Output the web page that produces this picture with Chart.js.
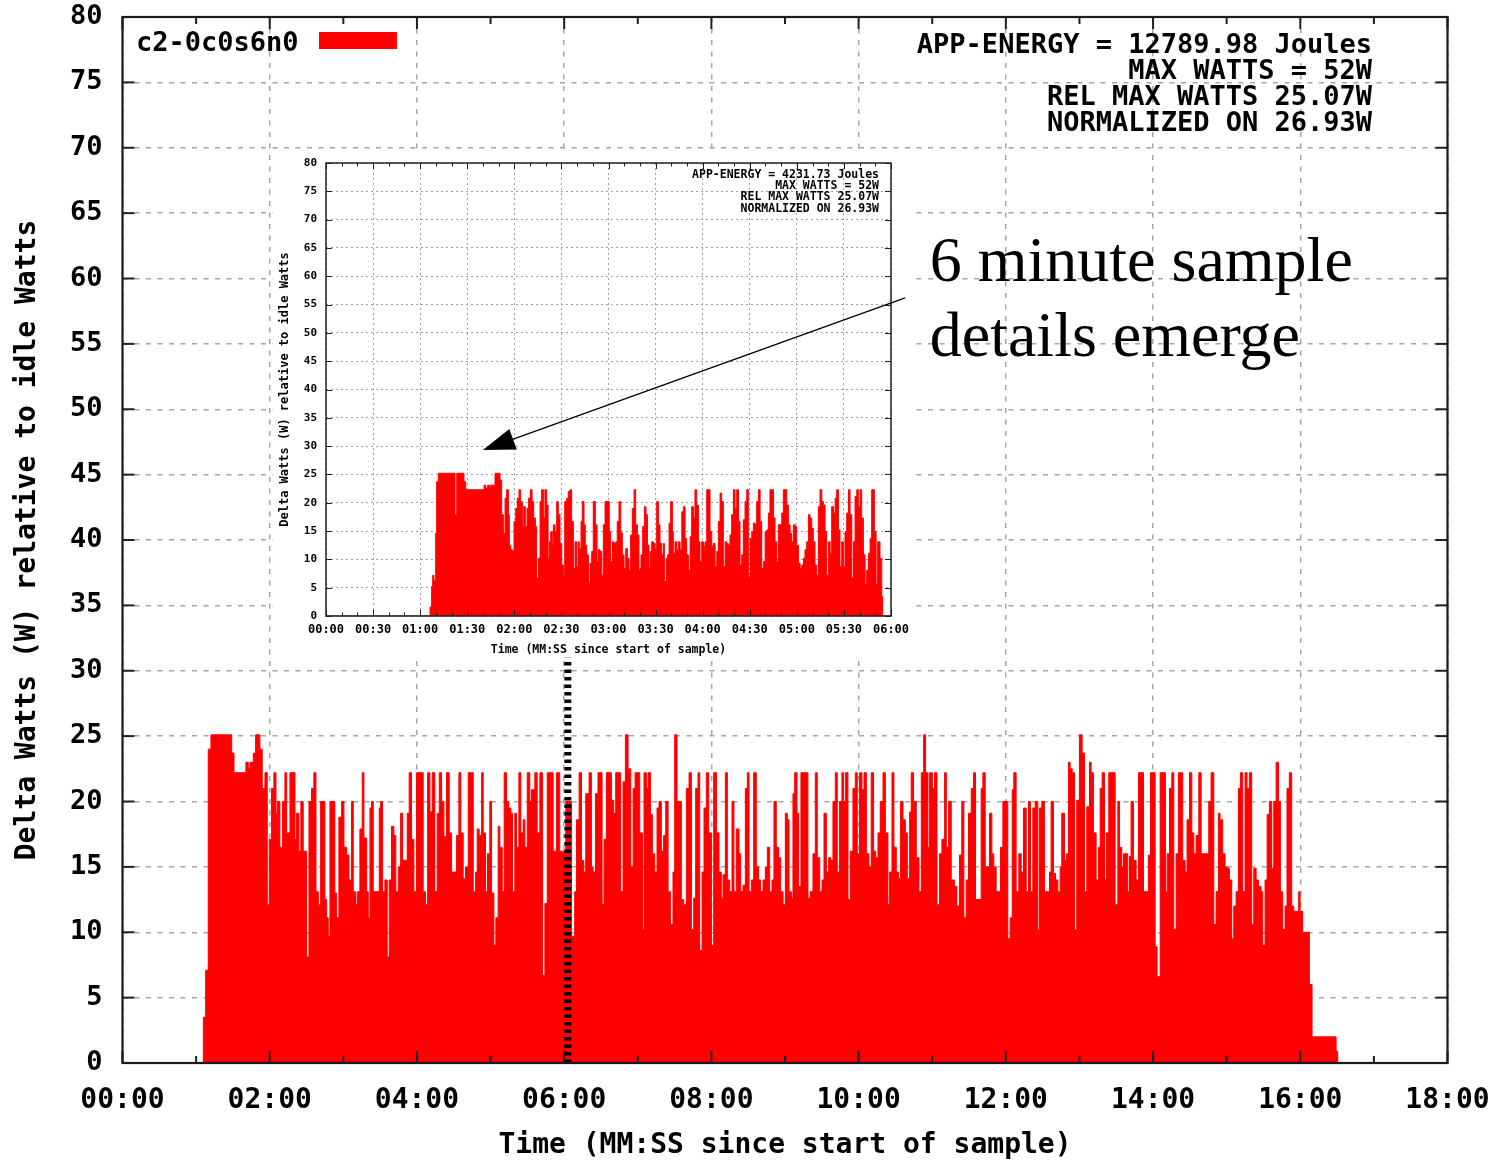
<!DOCTYPE html>
<html><head><meta charset="utf-8">
<script src="https://cdn.jsdelivr.net/npm/chart.js@4.4.0/dist/chart.umd.min.js"></script>
<style>
html,body{margin:0;padding:0;background:#fff;}
#wrap{position:relative;width:1492px;height:1160px;overflow:hidden;}
#main{position:absolute;left:0;top:0;}
#inset{position:absolute;left:273px;top:150px;background:#fff;}
</style></head><body>
<div id="wrap"><canvas id="main" width="1492" height="1160"></canvas><canvas id="inset" width="640" height="507"></canvas></div>
<script>
// ---------------- DATA ----------------
const seriesLabel = 'c2-0c0s6n0';
const yTitle = 'Delta Watts (W) relative to idle Watts';
const xTitle = 'Time (MM:SS since start of sample)';
const mainStats = ['APP-ENERGY = 12789.98 Joules', 'MAX WATTS = 52W', 'REL MAX WATTS 25.07W', 'NORMALIZED ON 26.93W'];
const insetStats = ['APP-ENERGY = 4231.73 Joules', 'MAX WATTS = 52W', 'REL MAX WATTS 25.07W', 'NORMALIZED ON 26.93W'];
const noteLines = ['6 minute sample', 'details emerge'];
const mainXTickLabels = ['00:00','02:00','04:00','06:00','08:00','10:00','12:00','14:00','16:00','18:00'];
const insetXTickLabels = ['00:00','00:30','01:00','01:30','02:00','02:30','03:00','03:30','04:00','04:30','05:00','05:30','06:00'];

// main chart: step start time (s) and watts
const mainTime = [
 0, 65.9, 67.8, 69.9, 72.1, 89.0, 90.9, 100.6, 102.5, 103.9,
 106.6, 108.5, 112.0, 113.9, 116.1, 118.0, 119.6, 121.5, 123.4, 125.1,
 126.2, 128.3, 130.5, 132.4, 133.8, 136.5, 140.6, 141.9, 143.8, 145.4,
 147.3, 150.1, 152.0, 154.1, 156.0, 157.7, 159.6, 161.5, 165.0, 166.4,
 167.7, 169.1, 173.1, 174.5, 176.4, 178.6, 180.5, 182.7, 184.6, 186.7,
 188.1, 190.0, 191.3, 193.5, 195.4, 196.8, 199.0, 200.3, 201.7, 203.0,
 204.4, 209.3, 210.4, 212.0, 213.9, 215.8, 217.4, 219.3, 221.2, 222.8,
 224.8, 226.7, 228.3, 232.1, 233.7, 235.6, 237.5, 239.7, 245.1, 247.0,
 248.7, 250.6, 252.5, 254.6, 256.5, 258.2, 260.1, 262.0, 264.1, 266.3,
 268.2, 272.3, 274.2, 275.8, 277.7, 279.6, 281.8, 285.9, 287.8, 289.1,
 290.7, 292.7, 294.0, 295.9, 297.5, 299.4, 300.8, 302.7, 304.3, 306.2,
 307.6, 309.5, 311.1, 313.0, 314.9, 316.6, 317.9, 319.8, 321.2, 323.1,
 324.7, 326.6, 328.0, 329.9, 332.0, 333.4, 336.1, 338.0, 340.2, 342.4,
 344.3, 346.2, 351.0, 353.8, 356.4, 361.3, 365.9, 368.6, 370.0, 372.2,
 374.1, 376.0, 377.6, 380.3, 382.2, 383.6, 385.5, 387.6, 390.9, 392.5,
 394.4, 398.5, 400.4, 402.0, 406.1, 408.0, 409.9, 412.1, 414.3, 416.2,
 417.8, 421.6, 423.8, 425.1, 427.0, 428.4, 430.3, 431.9, 433.8, 435.7,
 437.3, 439.2, 441.1, 442.8, 444.7, 446.6, 448.7, 450.1, 452.0, 455.5,
 457.4, 459.6, 461.8, 463.7, 465.6, 467.2, 469.1, 470.5, 472.4, 474.0,
 475.9, 477.8, 480.0, 481.9, 484.1, 486.2, 488.1, 489.5, 491.4, 493.0,
 494.9, 496.8, 498.4, 500.3, 502.5, 503.9, 505.8, 507.7, 509.3, 510.7,
 512.6, 514.5, 516.6, 518.5, 520.2, 522.1, 524.0, 525.6, 527.5, 529.4,
 531.0, 532.9, 534.8, 536.5, 538.4, 540.3, 541.9, 543.3, 545.2, 546.5,
 547.9, 549.8, 551.1, 553.0, 558.7, 560.6, 562.8, 564.7, 566.3, 568.3,
 570.2, 571.8, 573.7, 575.6, 577.2, 579.1, 581.0, 582.6, 584.5, 586.4,
 587.8, 589.4, 591.3, 593.2, 595.4, 597.3, 598.9, 600.8, 602.7, 604.4,
 606.3, 608.4, 610.3, 612.2, 613.9, 615.8, 617.7, 619.9, 621.8, 623.9,
 625.3, 627.2, 628.8, 630.7, 632.6, 634.2, 636.2, 638.1, 639.7, 641.6,
 642.9, 644.8, 647.0, 649.2, 651.1, 653.0, 654.6, 656.5, 657.9, 660.1,
 661.9, 663.9, 666.0, 667.9, 670.1, 671.5, 673.4, 675.5, 678.2, 680.1,
 682.2, 684.1, 685.8, 687.7, 689.6, 691.8, 693.7, 695.3, 699.9, 701.3,
 703.2, 706.7, 708.6, 710.2, 712.1, 715.7, 717.6, 721.6, 723.5, 725.2,
 726.5, 728.4, 730.6, 732.5, 734.4, 736.6, 738.5, 740.1, 742.0, 743.9,
 746.1, 747.4, 749.3, 751.5, 755.6, 756.9, 758.8, 760.5, 762.4, 764.3,
 765.6, 767.8, 769.2, 771.1, 772.4, 774.1, 776.0, 777.8, 780.0, 782.2,
 784.1, 786.0, 788.2, 789.5, 791.4, 793.6, 795.5, 796.9, 798.5, 800.4,
 801.8, 803.9, 809.1, 811.3, 812.6, 814.5, 815.9, 819.4, 820.8, 822.1,
 824.0, 826.2, 828.1, 832.2, 836.2, 837.9, 841.7, 843.3, 845.8, 850.1,
 851.5, 853.4, 855.3, 856.9, 858.8, 860.7, 864.2, 866.1, 867.7, 869.7,
 871.6, 873.2, 875.1, 877.3, 879.2, 885.4, 887.3, 889.5, 891.4, 893.3,
 894.6, 896.8, 898.7, 900.3, 902.2, 904.1, 905.8, 907.7, 909.6, 911.2,
 913.1, 915.0, 916.6, 918.5, 920.4, 922.1, 924.0, 925.9, 928.0, 929.4,
 931.3, 933.0, 934.8, 936.7, 938.4, 940.3, 942.2, 943.8, 945.7, 947.6,
 949.2, 951.1, 953.0, 954.7, 958.7, 959.8, 962.0, 967.4, 969.6, 989.2,
 990.5, 1080
];
const mainWatts = [
 0, 3.5, 7.1, 24.0, 25.1, 23.7, 22.2, 23.0, 22.5, 23.0,
 23.7, 25.1, 24.0, 21.0, 22.2, 12.1, 17.1, 21.0, 22.2, 19.1,
 20.0, 16.5, 20.0, 22.2, 17.6, 22.2, 17.1, 19.1, 16.2, 20.0,
 16.2, 8.1, 20.0, 21.0, 22.2, 13.1, 12.1, 20.0, 12.5, 11.1,
 9.7, 20.0, 13.0, 11.1, 18.8, 20.0, 16.5, 15.9, 14.0, 20.0,
 13.1, 12.1, 13.1, 17.9, 22.2, 17.2, 13.1, 11.1, 19.5, 20.0,
 13.1, 19.5, 20.0, 13.1, 14.0, 8.1, 14.0, 18.1, 17.4, 13.1,
 15.0, 19.1, 15.5, 19.1, 22.2, 17.1, 13.1, 22.2, 13.1, 12.1,
 22.2, 19.2, 22.2, 13.1, 19.1, 22.2, 20.0, 17.3, 22.2, 17.6,
 14.6, 17.4, 22.2, 17.6, 14.1, 15.0, 22.2, 13.1, 14.6, 17.9,
 17.4, 22.2, 17.6, 13.1, 16.0, 20.0, 13.0, 9.0, 11.1, 18.1,
 16.5, 13.1, 22.2, 20.0, 19.5, 19.1, 13.1, 19.1, 16.5, 22.2,
 17.6, 18.6, 16.5, 22.2, 20.0, 20.9, 22.2, 17.6, 22.2, 6.7,
 12.2, 22.2, 16.2, 22.2, 16.2, 20.0, 9.7, 13.1, 18.6, 22.2,
 15.5, 14.6, 20.6, 22.2, 15.0, 14.6, 20.6, 22.2, 12.1, 17.1,
 22.2, 20.1, 19.1, 22.2, 13.1, 21.5, 25.1, 22.5, 15.0, 21.0,
 22.2, 17.6, 10.2, 22.2, 21.0, 22.2, 19.0, 16.0, 14.6, 19.5,
 20.0, 16.2, 17.4, 20.0, 13.1, 10.6, 14.6, 25.1, 20.0, 12.5,
 12.1, 21.0, 22.2, 10.2, 12.6, 21.0, 22.2, 8.6, 14.6, 19.5,
 22.2, 17.6, 9.0, 22.2, 17.6, 14.6, 12.6, 14.4, 22.2, 14.0,
 13.1, 20.0, 13.1, 17.9, 16.0, 13.1, 13.6, 21.0, 22.2, 13.1,
 14.0, 22.2, 15.0, 14.0, 13.1, 14.0, 15.0, 16.5, 13.1, 14.0,
 20.0, 16.5, 15.7, 13.1, 12.1, 19.1, 18.6, 13.1, 12.6, 20.6,
 22.2, 19.1, 13.5, 22.2, 12.6, 13.1, 16.0, 22.2, 15.7, 13.1,
 14.0, 19.1, 14.6, 15.7, 15.5, 20.0, 22.2, 14.6, 20.0, 22.2,
 20.0, 22.2, 12.5, 16.2, 21.0, 22.2, 16.0, 22.2, 20.9, 22.2,
 16.0, 15.0, 22.2, 16.2, 15.7, 17.6, 20.0, 22.2, 17.6, 12.1,
 14.6, 22.2, 16.5, 14.6, 14.1, 20.0, 18.6, 17.6, 14.1, 19.2,
 22.2, 20.0, 15.7, 13.1, 22.2, 25.1, 22.2, 16.5, 22.2, 21.0,
 22.2, 12.1, 16.0, 17.1, 22.2, 16.5, 20.0, 14.0, 13.5, 12.0,
 15.9, 20.0, 11.1, 14.0, 19.1, 21.0, 22.2, 12.5, 21.0, 22.2,
 15.0, 19.1, 16.0, 15.0, 13.1, 16.5, 20.0, 9.5, 11.1, 20.9,
 22.2, 13.1, 16.0, 14.6, 19.5, 13.1, 20.0, 13.1, 19.5, 20.0,
 10.2, 19.5, 20.0, 13.1, 14.6, 20.0, 14.5, 14.0, 13.1, 15.0,
 19.1, 15.5, 16.0, 23.0, 22.5, 22.2, 10.2, 20.1, 25.1, 23.7,
 13.1, 19.6, 23.0, 22.2, 17.6, 14.0, 16.5, 21.0, 22.2, 14.0,
 17.6, 22.2, 12.1, 20.0, 16.5, 15.0, 16.0, 13.1, 15.8, 20.0,
 15.5, 14.0, 22.2, 13.1, 15.9, 22.2, 8.9, 6.6, 22.2, 13.1,
 16.0, 21.0, 22.2, 10.2, 16.0, 22.2, 15.5, 14.6, 18.6, 22.2,
 17.6, 16.0, 17.4, 22.2, 16.0, 20.0, 22.2, 10.6, 13.1, 19.1,
 18.6, 16.0, 15.0, 14.9, 14.0, 9.5, 12.0, 13.1, 21.0, 22.2,
 13.1, 22.2, 21.0, 22.2, 10.6, 14.9, 14.0, 13.5, 13.1, 9.0,
 14.0, 19.0, 20.0, 14.9, 20.0, 23.0, 20.0, 13.1, 10.2, 12.0,
 21.0, 22.2, 12.0, 11.6, 13.1, 11.6, 10.0, 6.0, 2.0, 0.9,
 0, 0
];

// inset chart (first 6 minutes): step start time (s) and watts
const insetTime = [
 0, 66.3, 67.3, 68.0, 68.8, 69.9, 70.5, 71.6, 82.2, 83.3,
 87.9, 89.0, 100.7, 101.7, 103.0, 104.1, 104.9, 107.7, 110.9, 111.9,
 113.0, 114.1, 115.1, 116.2, 116.8, 117.7, 118.9, 119.8, 120.9, 121.9,
 123.0, 124.0, 125.1, 126.0, 127.0, 128.1, 129.1, 130.2, 131.3, 132.3,
 133.4, 134.2, 135.3, 136.4, 137.4, 138.5, 139.5, 140.6, 141.5, 142.3,
 143.2, 144.2, 144.9, 145.9, 147.0, 148.0, 149.1, 150.2, 151.2, 152.1,
 153.4, 154.4, 155.5, 156.5, 157.6, 158.7, 159.7, 160.6, 161.4, 162.5,
 163.3, 164.4, 165.2, 166.1, 167.2, 168.2, 169.3, 170.3, 171.6, 172.7,
 173.5, 174.6, 175.7, 176.7, 177.8, 180.5, 181.4, 182.5, 183.5, 184.6,
 185.6, 186.7, 187.8, 188.8, 189.9, 191.0, 192.0, 193.1, 194.1, 195.2,
 196.3, 197.3, 198.4, 199.4, 200.1, 200.7, 201.8, 202.9, 203.9, 204.8,
 205.8, 206.5, 207.5, 208.6, 209.7, 210.7, 211.8, 212.8, 213.9, 215.0,
 215.6, 216.7, 217.7, 218.6, 219.6, 220.7, 221.3, 222.4, 223.5, 224.5,
 225.6, 226.7, 227.7, 228.8, 229.8, 230.9, 232.0, 233.0, 234.1, 235.1,
 236.2, 237.3, 238.3, 239.4, 240.5, 241.5, 242.6, 244.7, 245.8, 246.8,
 247.9, 249.0, 250.0, 251.1, 252.1, 253.2, 254.3, 255.3, 256.4, 257.4,
 258.5, 259.6, 260.6, 261.7, 262.8, 263.8, 264.9, 265.9, 267.0, 268.1,
 269.1, 270.2, 271.3, 272.3, 273.4, 274.4, 275.5, 276.6, 277.6, 278.7,
 279.8, 280.8, 281.9, 282.9, 285.1, 286.1, 287.2, 288.2, 290.4, 291.4,
 293.6, 294.6, 295.7, 296.7, 297.8, 298.9, 299.9, 301.0, 302.1, 303.1,
 304.2, 305.2, 306.3, 307.4, 308.4, 309.5, 310.5, 311.6, 312.7, 313.7,
 314.8, 315.9, 316.9, 318.0, 319.0, 320.1, 321.2, 322.2, 323.3, 324.4,
 325.4, 326.5, 327.5, 328.6, 329.7, 330.7, 331.8, 332.9, 333.9, 335.0,
 336.0, 337.1, 338.2, 339.2, 340.3, 341.3, 342.4, 343.5, 344.5, 345.6,
 346.7, 347.7, 349.4, 350.5, 351.5, 353.0, 354.1, 354.7, 360
];
const insetWatts = [
 0, 1.6, 5.2, 7.2, 6.2, 14.6, 23.7, 25.2, 17.9, 25.2,
 23.7, 22.3, 23.1, 22.6, 23.1, 22.6, 23.1, 25.2, 24.0, 17.9,
 14.6, 20.8, 22.3, 17.9, 12.5, 11.7, 11.4, 16.7, 19.0, 20.8,
 22.3, 20.2, 15.5, 19.3, 15.8, 19.0, 20.8, 22.3, 20.2, 17.3,
 15.8, 6.7, 10.2, 20.2, 22.3, 17.3, 22.3, 19.6, 10.2, 13.1,
 14.9, 12.5, 16.1, 14.9, 20.2, 17.9, 12.8, 9.0, 7.2, 20.2,
 20.8, 22.0, 22.3, 16.7, 8.4, 13.1, 8.7, 13.1, 11.9, 16.7,
 20.2, 16.1, 12.5, 10.8, 5.8, 9.3, 11.4, 20.2, 16.1, 9.6,
 11.7, 11.4, 7.2, 16.1, 20.2, 14.9, 9.6, 13.1, 12.8, 13.1,
 16.7, 20.2, 14.7, 10.8, 8.4, 11.9, 10.2, 8.1, 14.3, 19.0,
 22.3, 16.1, 14.3, 8.1, 8.4, 10.8, 15.8, 19.3, 17.9, 12.5,
 8.4, 11.4, 13.1, 12.8, 11.7, 20.2, 16.1, 12.8, 10.8, 12.8,
 6.1, 10.2, 10.8, 16.4, 20.2, 14.9, 11.1, 13.1, 11.7, 13.1,
 11.7, 18.4, 19.3, 13.7, 10.8, 8.1, 14.0, 19.3, 17.3, 22.3,
 19.6, 13.1, 9.6, 13.1, 12.3, 13.1, 22.3, 14.9, 12.3, 12.8,
 8.7, 11.4, 16.7, 21.7, 20.2, 8.7, 13.1, 12.8, 12.5, 14.3,
 17.9, 22.3, 19.0, 22.3, 16.7, 9.0, 10.8, 17.0, 20.2, 22.3,
 6.9, 13.7, 14.9, 16.4, 16.1, 20.2, 22.3, 16.7, 8.4, 9.6,
 14.9, 15.2, 18.2, 22.3, 17.3, 13.1, 9.6, 16.1, 18.2, 22.3,
 19.6, 16.1, 14.6, 13.1, 16.1, 15.8, 12.5, 9.3, 8.4, 9.0,
 10.2, 11.7, 13.1, 17.9, 17.3, 15.5, 13.1, 9.0, 7.2, 19.3,
 22.3, 20.2, 19.6, 14.9, 7.2, 13.1, 11.1, 19.3, 18.2, 20.8,
 22.3, 15.2, 8.7, 13.1, 8.7, 14.9, 18.2, 22.3, 17.9, 6.7,
 13.1, 21.1, 22.3, 19.3, 22.3, 17.3, 10.8, 5.5, 8.1, 11.1,
 13.7, 22.3, 14.9, 5.5, 13.1, 10.2, 3.4, 0, 0
];

// annotation anchors in data units
const markerTime = 363;          // dotted marker on the main chart (s)
const markerTop = 31;            // top of dotted marker (W)
const noteAt = { x: 658, y: [59.8, 54.1] };
const arrowTip = { x: 100, y: 29.3 };     // inset data units
const arrowTail = { x: 369, y: 56.2 };

// ---------------- RENDER ----------------
const MONO = '"DejaVu Sans Mono", "Liberation Mono", monospace';
const SERIF = '"Liberation Serif", "DejaVu Serif", serif';
const RED = '#ff0000';

function line(ctx, x1, y1, x2, y2) { ctx.beginPath(); ctx.moveTo(x1, y1); ctx.lineTo(x2, y2); ctx.stroke(); }
function noPad(s) { s.paddingLeft = 0; s.paddingRight = 0; s.paddingTop = 0; s.paddingBottom = 0; }

const mainDeco = {
  id: 'mainDeco',
  afterDatasetsDraw(chart) {
    const { ctx, chartArea: a, scales: { x, y } } = chart;
    ctx.save();
    // dotted marker
    const mx = x.getPixelForValue(markerTime);
    ctx.strokeStyle = '#000'; ctx.lineWidth = 7; ctx.setLineDash([3.5, 4]);
    line(ctx, mx, y.getPixelForValue(0), mx, y.getPixelForValue(markerTop));
    ctx.setLineDash([]);
    // inward ticks
    ctx.strokeStyle = '#202020'; ctx.lineWidth = 2;
    x.ticks.forEach(t => {
      const px = x.getPixelForValue(t.value);
      const L = t.value % 120 === 0 ? 12 : 7;
      line(ctx, px, a.bottom, px, a.bottom - L);
      line(ctx, px, a.top, px, a.top + L);
    });
    y.ticks.forEach(t => {
      const py = y.getPixelForValue(t.value);
      line(ctx, a.left, py, a.left + 12, py);
      line(ctx, a.right, py, a.right - 12, py);
    });
    ctx.lineWidth = 2.2; ctx.strokeStyle = '#1a1a1a';
    ctx.strokeRect(a.left, a.top, a.right - a.left, a.bottom - a.top);
    // legend
    ctx.fillStyle = '#000'; ctx.font = 'bold 27px ' + MONO; ctx.textBaseline = 'middle'; ctx.textAlign = 'left';
    ctx.fillText(chart.data.datasets[0].label, a.left + 13.5, a.top + 26.5);
    ctx.fillStyle = RED; ctx.fillRect(a.left + 196.5, a.top + 15, 78, 17);
    // stats
    ctx.fillStyle = '#000'; ctx.textAlign = 'right'; ctx.font = 'bold 27px ' + MONO;
    mainStats.forEach((s, i) => ctx.fillText(s, a.right - 75.5, a.top + 29 + i * 26));
    // note
    ctx.font = '64px ' + SERIF; ctx.textAlign = 'left'; ctx.textBaseline = 'alphabetic';
    noteLines.forEach((s, i) => ctx.fillText(s, x.getPixelForValue(noteAt.x), y.getPixelForValue(noteAt.y[i])));
    ctx.restore();
  }
};

const insetDeco = {
  id: 'insetDeco',
  afterDatasetsDraw(chart) {
    const { ctx, chartArea: a, scales: { x, y } } = chart;
    ctx.save();
    ctx.strokeStyle = '#202020'; ctx.lineWidth = 1;
    x.ticks.forEach(t => {
      const px = Math.round(x.getPixelForValue(t.value)) + 0.5;
      const L = t.value % 30 === 0 ? 6 : 3.5;
      line(ctx, px, a.bottom, px, a.bottom - L);
      line(ctx, px, a.top, px, a.top + L);
    });
    y.ticks.forEach(t => {
      const py = Math.round(y.getPixelForValue(t.value)) + 0.5;
      line(ctx, a.left, py, a.left + 6, py);
      line(ctx, a.right, py, a.right - 6, py);
    });
    ctx.lineWidth = 1.5; ctx.strokeStyle = '#222';
    ctx.strokeRect(a.left, a.top, a.right - a.left, a.bottom - a.top);
    // stats
    ctx.fillStyle = '#000'; ctx.textAlign = 'right'; ctx.textBaseline = 'middle'; ctx.font = 'bold 11.5px ' + MONO;
    insetStats.forEach((s, i) => ctx.fillText(s, a.right - 12, a.top + 12 + i * 11.2));
    // arrow
    const tx = x.getPixelForValue(arrowTip.x), ty = y.getPixelForValue(arrowTip.y);
    const sx = x.getPixelForValue(arrowTail.x), sy = y.getPixelForValue(arrowTail.y);
    const dx = sx - tx, dy = sy - ty, d = Math.hypot(dx, dy), ux = dx / d, uy = dy / d;
    const hl = 32, hw = 11;
    ctx.strokeStyle = '#000'; ctx.lineWidth = 1.3;
    line(ctx, sx, sy, tx + ux * hl * 0.8, ty + uy * hl * 0.8);
    ctx.fillStyle = '#000';
    ctx.beginPath();
    ctx.moveTo(tx, ty);
    ctx.lineTo(tx + ux * hl - uy * hw, ty + uy * hl + ux * hw);
    ctx.lineTo(tx + ux * hl + uy * hw, ty + uy * hl - ux * hw);
    ctx.closePath(); ctx.fill();
    ctx.restore();
  }
};

new Chart(document.getElementById('main'), {
  type: 'line',
  data: { datasets: [{
    label: seriesLabel,
    data: mainTime.map((t, i) => ({ x: t, y: mainWatts[i] })),
    stepped: true, fill: 'origin', backgroundColor: RED, borderColor: RED, borderWidth: 1, pointRadius: 0
  }] },
  options: {
    responsive: false, animation: false, devicePixelRatio: 1,
    layout: { padding: { top: 17, right: 44.5, left: 0, bottom: 0 } },
    plugins: { legend: { display: false }, tooltip: { enabled: false } },
    scales: {
      x: {
        type: 'linear', min: 0, max: 1080,
        afterFit(s) { s.height = 97; noPad(s); },
        ticks: { stepSize: 60, autoSkip: false, maxRotation: 0, padding: 21, color: '#000',
          font: { family: MONO, size: 28, weight: 'bold' },
          callback: v => (v % 120 === 0 ? mainXTickLabels[v / 120] : '') },
        grid: { drawTicks: false, lineWidth: 1.5,
          color: c => (c.tick && c.tick.value % 120 === 0 ? '#a6a6a6' : 'rgba(0,0,0,0)') },
        border: { display: false, dash: [5, 6.5] },
        title: { display: true, text: xTitle, color: '#000', padding: { top: 0, bottom: -3 },
          font: { family: MONO, size: 28, weight: 'bold' } }
      },
      y: {
        min: 0, max: 80,
        afterFit(s) { s.width = 122.5; noPad(s); },
        ticks: { stepSize: 5, padding: 20, color: '#000', font: { family: MONO, size: 27, weight: 'bold' } },
        grid: { drawTicks: false, lineWidth: 1.5, color: '#a6a6a6' },
        border: { display: false, dash: [5, 6.5] },
        title: { display: true, text: yTitle, color: '#000', padding: { top: 11, bottom: 0 },
          font: { family: MONO, size: 28, weight: 'bold' } }
      }
    }
  },
  plugins: [mainDeco]
});

new Chart(document.getElementById('inset'), {
  type: 'line',
  data: { datasets: [{
    label: seriesLabel,
    data: insetTime.map((t, i) => ({ x: t, y: insetWatts[i] })),
    stepped: true, fill: 'origin', backgroundColor: RED, borderColor: RED, borderWidth: 1, pointRadius: 0
  }] },
  options: {
    responsive: false, animation: false, devicePixelRatio: 1,
    layout: { padding: { top: 13, right: 22, left: 0, bottom: 0 } },
    plugins: { legend: { display: false }, tooltip: { enabled: false } },
    scales: {
      x: {
        type: 'linear', min: 0, max: 360,
        afterFit(s) { s.height = 41; noPad(s); },
        ticks: { stepSize: 10, autoSkip: false, maxRotation: 0, padding: 7, color: '#000',
          font: { family: MONO, size: 12, weight: 'bold' },
          callback: v => (v % 30 === 0 ? insetXTickLabels[v / 30] : '') },
        grid: { drawTicks: false, lineWidth: 1,
          color: c => (c.tick && c.tick.value % 30 === 0 ? '#a0a0a0' : 'rgba(0,0,0,0)') },
        border: { display: false, dash: [2, 3] },
        title: { display: true, text: xTitle, color: '#000', padding: { top: 0, bottom: 0 },
          font: { family: MONO, size: 11.5, weight: 'bold' } }
      },
      y: {
        min: 0, max: 80,
        afterFit(s) { s.width = 53; noPad(s); },
        ticks: { stepSize: 5, padding: 9, color: '#000', font: { family: MONO, size: 11, weight: 'bold' } },
        grid: { drawTicks: false, lineWidth: 1, color: '#a0a0a0' },
        border: { display: false, dash: [2, 3] },
        title: { display: true, text: yTitle, color: '#000', padding: { top: 5, bottom: 0 },
          font: { family: MONO, size: 12, weight: 'bold' } }
      }
    }
  },
  plugins: [insetDeco]
});
</script>
</body></html>
